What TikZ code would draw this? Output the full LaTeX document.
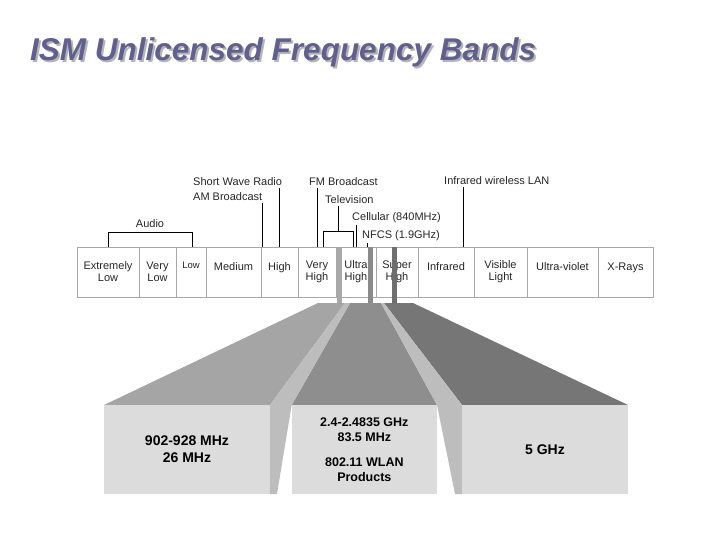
\documentclass[tikz,border=0pt]{standalone}
\usepackage{fontspec}
\setmainfont{Liberation Sans}
\definecolor{cellgray}{HTML}{A8A8A8}
\definecolor{labeltext}{HTML}{262626}
\definecolor{titleblue}{HTML}{5F5F90}
\definecolor{titleshadow}{HTML}{B4B4B4}
\definecolor{frontgray}{HTML}{DCDCDC}
\definecolor{stripgray}{HTML}{BDBDBD}
\definecolor{topA}{HTML}{A5A5A5}
\definecolor{topB}{HTML}{8E8E8E}
\definecolor{topC}{HTML}{767676}
\definecolor{barA}{HTML}{A8A8A8}
\definecolor{barB}{HTML}{8A8A8A}
\definecolor{barC}{HTML}{6E6E6E}
\newcommand{\titletext}{ISM Unlicensed Frequency Bands}
\begin{document}
\begin{tikzpicture}[x=1pt,y=-1pt,
  cell/.style={draw=cellgray, line width=0.8pt, minimum height=50pt, inner sep=0pt},
  celltext/.style={inner sep=0pt, align=center, text=labeltext, font=\fontsize{11}{12}\selectfont},
  onetext/.style={inner sep=0pt, anchor=base, text=labeltext, font=\fontsize{11}{12}\selectfont},
  toplabel/.style={inner sep=0pt, anchor=base west, text=labeltext, font=\fontsize{11}{13}\selectfont},
  leader/.style={draw=black, line width=0.8pt},
  front/.style={fill=frontgray, inner sep=0pt, minimum height=89pt, align=center, text=black},
  bar/.style={inner sep=0pt, minimum width=5pt, minimum height=57pt}
]
\useasboundingbox (0,0) rectangle (720,540);

% title with drop shadow (one text)
\node[anchor=base west, inner sep=0pt, font=\fontsize{31.5}{34}\selectfont\bfseries\itshape] (title) at (30,61)
  {\rlap{\hspace{2pt}\raisebox{-2pt}{\textcolor{titleshadow}{\titletext}}}\textcolor{titleblue}{\titletext}};

% band cells
\node[cell, minimum width=62pt] (c1) at (108,272) {};
\node[cell, minimum width=37pt] (c2) at (157.5,272) {};
\node[cell, minimum width=30pt] (c3) at (191,272) {};
\node[cell, minimum width=55pt] (c4) at (233.5,272) {};
\node[cell, minimum width=37pt] (c5) at (279.5,272) {};
\node[cell, minimum width=38pt] (c6) at (317,272) {};
\node[cell, minimum width=40pt] (c7) at (356,272) {};
\node[cell, minimum width=42pt] (c8) at (397,272) {};
\node[cell, minimum width=56pt] (c9) at (446,272) {};
\node[cell, minimum width=53pt] (c10) at (500.5,272) {};
\node[cell, minimum width=71pt] (c11) at (562.5,272) {};
\node[cell, minimum width=55pt] (c12) at (625.5,272) {};

\node[celltext] (t1) at (108,272) {Extremely\\Low};
\node[celltext] (t2) at (157.5,272) {Very\\Low};
\node[onetext, font=\fontsize{9.5}{11}\selectfont] (t3) at (191,268.5) {Low};
\node[onetext] (t4) at (233.5,270) {Medium};
\node[onetext] (t5) at (279.5,270) {High};
\node[celltext] (t6) at (317,272) {Very\\High};
\node[celltext] (t7) at (356,272) {Ultra\\High};
\node[celltext] (t8) at (397,272) {Super\\High};
\node[onetext] (t9) at (446,270) {Infrared};
\node[celltext] (t10) at (500.5,272) {Visible\\Light};
\node[onetext] (t11) at (562.5,270) {Ultra-violet};
\node[onetext] (t12) at (625.5,270) {X-Rays};

% top labels
\node[toplabel, anchor=base] (audio) at (150,228) {Audio};
\node[toplabel] (swr) at (193,186) {Short Wave Radio};
\node[toplabel] (am) at (193,201) {AM Broadcast};
\node[toplabel] (fm) at (309,186) {FM Broadcast};
\node[toplabel] (tv) at (325,204) {Television};
\node[toplabel] (cell) at (352,221) {Cellular (840MHz)};
\node[toplabel] (nfcs) at (362,239) {NFCS (1.9GHz)};
\node[toplabel] (irlan) at (444,185) {Infrared wireless LAN};

% leader lines
\coordinate (audL) at (108,247);
\coordinate (audR) at (192,247);
\draw[leader] (audL) -- (108,232) -- (192,232) -- (audR);
\coordinate (swrE) at (279,247);
\draw[leader] (swrE |- swr.south) ++(0,2) -- (swrE);
\coordinate (amE) at (262,247);
\draw[leader] (amE |- am.south) ++(0,2) -- (amE);
\coordinate (fmE) at (317,247);
\draw[leader] (fmE |- fm.south) ++(0,2) -- (fmE);
\coordinate (tvL) at (323,247);
\coordinate (tvR) at (353,247);
\coordinate (tvM) at (338,231);
\draw[leader] (tvL) -- (323,231) -- (353,231) -- (tvR);
\draw[leader] (tvM |- tv.south) ++(0,2) -- (tvM);
\coordinate (cellE) at (356,247);
\draw[leader] (cellE |- cell.south) ++(0,2) -- (cellE);
\coordinate (nfcsE) at (367,247);
\draw[leader] (nfcsE |- nfcs.south) ++(0,2) -- (nfcsE);
\coordinate (irE) at (463,247);
\draw[leader] (irE |- irlan.south) ++(0,2) -- (irE);

% bars
\node[bar, fill=barA, anchor=north] (bar1) at (339.5,247) {};
\node[bar, fill=barB, anchor=north] (bar2) at (370.5,247) {};
\node[bar, fill=barC, anchor=north] (bar3) at (394.5,247) {};

% top faces
\fill[topA] (104,405) -- (270,405) -- (345,303) -- (318,303) -- cycle;
\fill[topB] (291.7,405) -- (437,405) -- (381,303) -- (350,303) -- cycle;
\fill[topC] (462,405) -- (628,405) -- (413,303) -- (384,303) -- cycle;
% side strips
\fill[stripgray] (270,405) -- (345,303) -- (350,303) -- (291.7,405) -- (277,494) -- (270,494) -- cycle;
\fill[stripgray] (437,405) -- (381,303) -- (384,303) -- (462,405) -- (462,494) -- (455,494) -- cycle;

% front faces
\node[front, minimum width=166pt, font=\fontsize{14}{17}\selectfont\bfseries] (f1) at (187,449.5) {902-928 MHz\\26 MHz};
\node[front, minimum width=145.3pt, font=\fontsize{12.5}{15}\selectfont\bfseries] (f2) at (364.35,449.5) {2.4-2.4835 GHz\\83.5 MHz\\[10pt]802.11 WLAN\\Products};
\node[front, minimum width=166pt, font=\fontsize{14}{17}\selectfont\bfseries] (f3) at (545,449.5) {5 GHz};
\end{tikzpicture}
\end{document}
